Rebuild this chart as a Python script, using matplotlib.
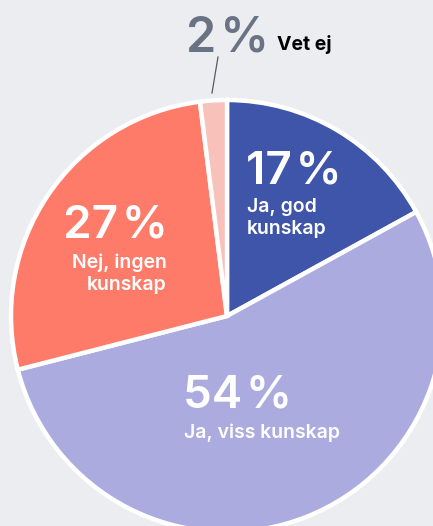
import matplotlib
matplotlib.use("Agg")
import matplotlib.pyplot as plt

# survey answers, clockwise from 12 o'clock
labels = ["Ja, god\nkunskap", "Ja, viss kunskap", "Nej, ingen\nkunskap", "Vet ej"]
shares = [17, 54, 27, 2]
pct_text = ["17\u200a%", "54\u200a%", "27\u200a%", "2\u200a%"]
colors = ["#3F55A9", "#ABABDF", "#FF7B69", "#F8C1BA"]

BG = "#ECEDF1"
H = 526

plt.rcParams["font.family"] = ["Inter", "DejaVu Sans"]

fig = plt.figure(figsize=(4.33, 5.26), dpi=100, facecolor=BG)
ax = fig.add_axes([0, 0, 1, 1])
ax.set_facecolor(BG)

ax.pie(shares, colors=colors, startangle=90, counterclock=False,
       center=(227, H - 316), radius=216,
       wedgeprops=dict(edgecolor="white", linewidth=3.2))

ax.set_xlim(0, 433)
ax.set_ylim(0, H)
ax.set_aspect("equal")
ax.axis("off")

# in-slice labels: (x, baseline of big number, alignment)
spots = [(246, 183, "left"), (183, 408, "left"), (168, 238, "right")]
for i, (x, y, ha) in enumerate(spots):
    ax.text(x, H - y, pct_text[i], color="white", fontsize=33,
            fontweight="semibold", ha=ha, va="baseline")
    ax.text(x + (1 if ha == "left" else -1), H - y - 15, labels[i],
            color="white", fontsize=14, fontweight="semibold", ha=ha,
            va="top", linespacing=1.3)

# small slice label outside
ax.text(186, H - 52, pct_text[3], color="#6A7384", fontsize=35,
        fontweight="semibold", ha="left", va="baseline")
ax.text(277, H - 50, labels[3], color="black", fontsize=14,
        fontweight="bold", ha="left", va="baseline")
ax.plot([218, 212], [H - 57, H - 93], color="#555B66", linewidth=0.9)

fig.savefig("out.png", dpi=100, facecolor=BG)
